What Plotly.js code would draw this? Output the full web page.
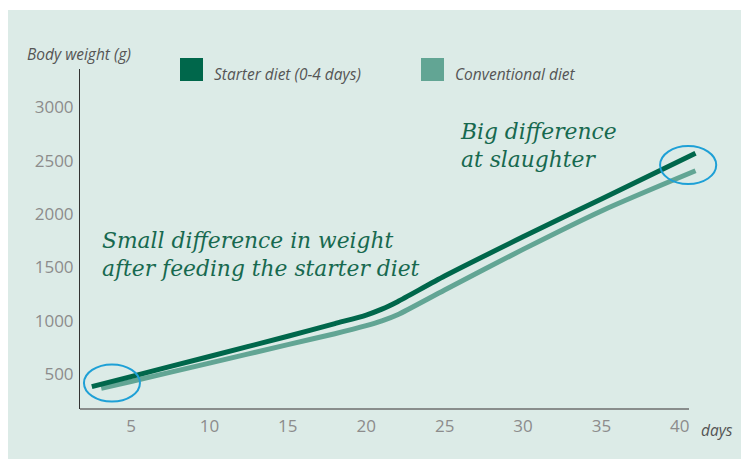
<!DOCTYPE html>
<html>
<head>
<meta charset="utf-8">
<script src="https://cdn.plot.ly/plotly-3.0.1.min.js"></script>
<style>
  html, body { margin: 0; padding: 0; background: #ffffff; width: 741px; height: 459px; overflow: hidden; }
  #chart { position: absolute; left: 8px; top: 10px; width: 733px; height: 449px; }
</style>
</head>
<body>
<div id="chart"></div>
<script>
// ---- data ----
const seriesNames = ["Starter diet (0-4 days)", "Conventional diet"];
const starterDays = [2.5, 5, 10, 15, 18, 20, 21, 22, 25, 30, 35, 41];
const starterWeight = [384, 478, 667, 856, 975, 1055, 1110, 1180, 1420, 1787, 2142, 2569];
const conventionalDays = [3.1, 5, 10, 15, 18, 20, 21, 22, 25, 30, 35, 41];
const conventionalWeight = [369, 432, 605, 778, 880, 955, 1000, 1058, 1290, 1670, 2030, 2406];
const xTickVals = [5, 10, 15, 20, 25, 30, 35, 40];
const yTickVals = [500, 1000, 1500, 2000, 2500, 3000];
const yAxisTitle = "Body weight (g)";
const xAxisTitle = "days";
const note1 = "Small difference in weight<br>after feeding the starter diet";
const note2 = "Big difference<br>at slaughter";

// ---- styling ----
const darkGreen = "#00674b";
const lightGreen = "#62a594";
const bg = "#dcebe7";
const noteColor = "#17694f";
const ringColor = "#1ea0d6";

const traces = [
  { x: conventionalDays, y: conventionalWeight, name: seriesNames[1], type: "scatter", mode: "lines",
    line: { color: lightGreen, width: 5, shape: "spline", smoothing: 0.7 }, showlegend: false, hoverinfo: "skip" },
  { x: starterDays, y: starterWeight, name: seriesNames[0], type: "scatter", mode: "lines",
    line: { color: darkGreen, width: 5, shape: "spline", smoothing: 0.7 }, showlegend: false, hoverinfo: "skip" }
];

const tickFont = { family: "Open Sans, sans-serif", size: 17, color: "#8c8c8c" };
const labelFont = { family: "Open Sans, sans-serif", size: 15.5, color: "#555555", style: "italic" };
const noteFont = { family: "DejaVu Serif, serif", size: 21.8, color: noteColor, style: "italic" };

const layout = {
  width: 733, height: 449,
  margin: { l: 72, r: 16, t: 59, b: 50 },
  paper_bgcolor: bg, plot_bgcolor: bg,
  xaxis: {
    range: [1.747, 42.88], tickvals: xTickVals, showgrid: false, zeroline: false,
    showline: false, ticks: "", tickfont: tickFont, ticklabelstandoff: 5, fixedrange: true
  },
  yaxis: {
    range: [175, 3359], tickvals: yTickVals, showgrid: false, zeroline: false,
    showline: true, linecolor: "#333333", linewidth: 1, ticks: "", tickfont: tickFont,
    ticklabelstandoff: 2, fixedrange: true
  },
  shapes: [
    { type: "line", xref: "paper", yref: "paper", x0: 0, x1: 0.9442, y0: 0, y1: 0,
      line: { color: "#6e6e6e", width: 1.5 } },
    { type: "rect", xref: "paper", yref: "paper", x0: 0.155, x1: 0.1907, y0: 0.9647, y1: 1.0324,
      fillcolor: darkGreen, line: { width: 0 } },
    { type: "rect", xref: "paper", yref: "paper", x0: 0.5287, x1: 0.5643, y0: 0.9647, y1: 1.0324,
      fillcolor: lightGreen, line: { width: 0 } },
    { type: "circle", xref: "x", yref: "y", x0: 2.0, x1: 5.57, y0: 245, y1: 592,
      line: { color: ringColor, width: 2 } },
    { type: "circle", xref: "x", yref: "y", x0: 38.74, x1: 42.32, y0: 2281, y1: 2637,
      line: { color: ringColor, width: 2 } }
  ],
  annotations: [
    { text: yAxisTitle, xref: "paper", yref: "paper", x: -0.0860, y: 1.044, xanchor: "left", yanchor: "middle",
      showarrow: false, font: labelFont },
    { text: xAxisTitle, xref: "paper", yref: "paper", x: 0.960, y: -0.0618, xanchor: "left", yanchor: "middle",
      showarrow: false, font: labelFont },
    { text: seriesNames[0], xref: "paper", yref: "paper", x: 0.2040, y: 0.9853, xanchor: "left", yanchor: "middle",
      showarrow: false, font: labelFont },
    { text: seriesNames[1], xref: "paper", yref: "paper", x: 0.5790, y: 0.9853, xanchor: "left", yanchor: "middle",
      showarrow: false, font: labelFont },
    { text: note1, xref: "paper", yref: "paper", x: 0.0310, y: 0.454, xanchor: "left", yanchor: "middle",
      align: "left", showarrow: false, font: noteFont },
    { text: note2, xref: "paper", yref: "paper", x: 0.5855, y: 0.775, xanchor: "left", yanchor: "middle",
      align: "left", showarrow: false, font: noteFont }
  ]
};

Plotly.newPlot("chart", traces, layout, { displayModeBar: false, staticPlot: true });
</script>
</body>
</html>
